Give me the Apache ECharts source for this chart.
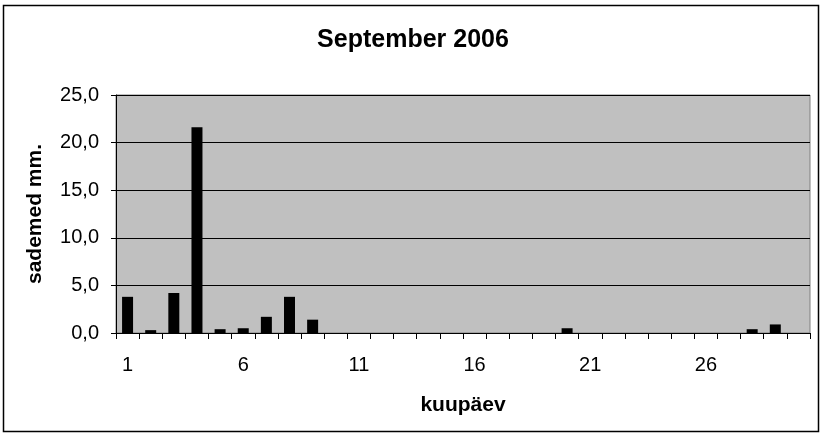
<!DOCTYPE html>
<html>
<head>
<meta charset="utf-8">
<script src="https://cdn.jsdelivr.net/npm/echarts@6/dist/echarts.min.js"></script>
<style>
html,body{margin:0;padding:0;background:#fff;}
#chart{width:826px;height:438px;}
</style>
</head>
<body>
<div id="chart"></div>
<script>
const titleText = "September 2006";
const xName = "kuupäev";
const yName = "sademed mm.";
const days = ["1","2","3","4","5","6","7","8","9","10","11","12","13","14","15","16","17","18","19","20","21","22","23","24","25","26","27","28","29","30"];
const rain = [3.8,0.3,4.2,21.6,0.4,0.5,1.7,3.8,1.4,0,0,0,0,0,0,0,0,0,0,0.5,0,0,0,0,0,0,0,0.4,0.9,0];
const yMin = 0, yMax = 25, yStep = 5;

const chart = echarts.init(document.getElementById('chart'), null, {renderer:'canvas'});
const font = "'Liberation Sans', Arial, sans-serif";
chart.setOption({
  animation:false,
  backgroundColor:'#ffffff',
  title:{text:titleText,left:'center',top:23,textStyle:{fontFamily:font,fontSize:25,fontWeight:'bold',color:'#000'}},
  graphic:[{type:'rect',shape:{x:3.5,y:5.5,width:815,height:426},style:{fill:'none',stroke:'#000',lineWidth:1.5},silent:true}],
  grid:{left:116,right:16,top:95,bottom:105,show:true,backgroundColor:'#c0c0c0',borderColor:'#808080',borderWidth:1},
  xAxis:{
    type:'category',data:days,boundaryGap:true,
    name:xName,nameLocation:'middle',nameGap:62,
    nameTextStyle:{fontFamily:font,fontSize:21,fontWeight:'bold',color:'#000'},
    axisLine:{show:true,lineStyle:{color:'#000',width:1}},
    axisTick:{show:true,interval:0,length:6,inside:false,lineStyle:{color:'#000'}},
    axisLabel:{interval:4,margin:22,fontFamily:font,fontSize:20,color:'#000'},
    splitLine:{show:false}
  },
  yAxis:{
    type:'value',min:yMin,max:yMax,interval:yStep,
    name:yName,nameLocation:'middle',nameGap:70,nameRotate:90,
    nameTextStyle:{fontFamily:font,fontSize:21,fontWeight:'bold',color:'#000'},
    axisLine:{show:true,lineStyle:{color:'#000',width:1}},
    axisTick:{show:true,length:5,lineStyle:{color:'#000'}},
    axisLabel:{margin:17,fontFamily:font,fontSize:20,color:'#000',formatter:v=>v.toFixed(1).replace('.',',')},
    splitLine:{show:true,lineStyle:{color:'#000',width:1}}
  },
  series:[{type:'bar',data:rain,barWidth:11,itemStyle:{color:'#000'}}]
});
</script>
</body>
</html>
